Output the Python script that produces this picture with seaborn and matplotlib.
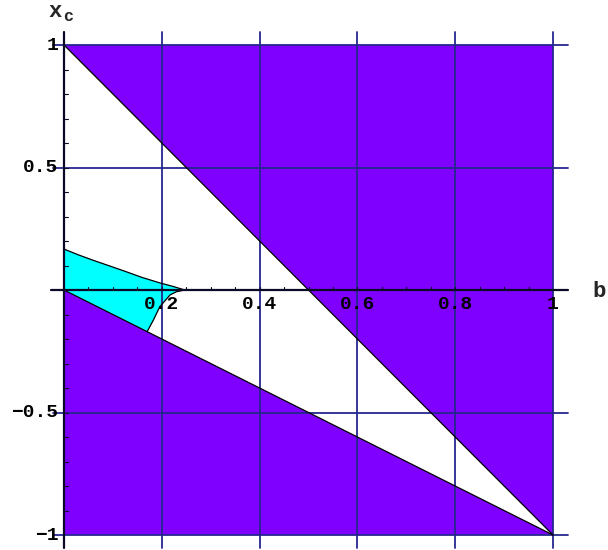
import numpy as np
import pandas as pd
import seaborn as sns
import matplotlib
matplotlib.use("Agg")
import matplotlib.pyplot as plt

sns.set_theme(style="white")
plt.rcParams['font.family'] = ['Liberation Mono', 'DejaVu Sans']

# region boundaries (b, x_c)
edge_b = [0.0, 1.0]
upper_xc = [1.0, -1.0]      # x_c = 1 - 2b
lower_xc = [0.0, -1.0]      # x_c = -b

# cyan region
cyan_top_b = [0.0, 0.03, 0.06, 0.095, 0.128, 0.16, 0.196, 0.224, 0.247]
cyan_top_xc = [0.167, 0.143, 0.121, 0.097, 0.074, 0.051, 0.029, 0.014, 0.0]
cyan_right_b = [0.247, 0.230, 0.217, 0.196, 0.183, 0.170]
cyan_right_xc = [0.0, -0.007, -0.020, -0.068, -0.122, -0.170]

xticks = [0.2, 0.4, 0.6, 0.8, 1.0]
xtick_labels = ['0.2', '0.4', '0.6', '0.8', '1']
yticks = [-1.0, -0.5, 0.5, 1.0]
ytick_labels = ['\u22121', '\u22120.5', '0.5', '1']

purple = '#7f00ff'
cyan = '#00ffff'
grid_col = '#26268f'
axis_col = '#0a0a28'

fig = plt.figure(figsize=(6.08, 5.5), dpi=100)
ax = fig.add_axes([0, 0, 1, 1])
ax.set_xlim(-64 / 489, 544 / 489)
ax.set_ylim(-260 / 245, 290 / 245)
ax.axis('off')

# purple regions
ax.fill([edge_b[0], edge_b[1], edge_b[1]], [upper_xc[0], upper_xc[0], upper_xc[1]],
        color=purple, lw=0, zorder=1)
ax.fill([edge_b[0], edge_b[1], edge_b[0]], [lower_xc[0], lower_xc[1], lower_xc[1]],
        color=purple, lw=0, zorder=1)

# cyan region
poly_b = cyan_top_b + cyan_right_b[1:] + [0.0]
poly_xc = cyan_top_xc + cyan_right_xc[1:] + [0.0]
ax.fill(poly_b, poly_xc, color=cyan, lw=0, zorder=1)

# grid
for x in xticks:
    ax.plot([x, x], [-1.053, 1.052], color=grid_col, lw=1.3, zorder=2)
for y in yticks:
    ax.plot([-0.022, 1.03], [y, y], color=grid_col, lw=1.3, zorder=2)

# boundary curves
lines = pd.DataFrame({'b': edge_b, 'up': upper_xc, 'lo': lower_xc})
sns.lineplot(data=lines, x='b', y='up', color='black', lw=0.9, ax=ax, zorder=3)
sns.lineplot(data=lines, x='b', y='lo', color='black', lw=0.9, ax=ax, zorder=3)
sns.lineplot(x=cyan_top_b, y=cyan_top_xc, color='black', lw=0.9, ax=ax, zorder=3,
             sort=False, estimator=None)
sns.lineplot(x=cyan_right_b, y=cyan_right_xc, color='black', lw=0.9, ax=ax, zorder=3,
             sort=False, estimator=None)

# axes
ax.plot([-0.027, 1.03], [0, 0], color=axis_col, lw=1.6, zorder=4)
ax.plot([0, 0], [-1.053, 1.052], color=axis_col, lw=1.6, zorder=4)

# minor ticks
for x in np.arange(0.05, 1.0, 0.05):
    ax.plot([x, x], [0, 0.012], color=axis_col, lw=0.8, zorder=4)
for y in np.arange(-0.9, 1.0, 0.1):
    if abs(y) > 1e-6:
        ax.plot([0, 0.008], [y, y], color=axis_col, lw=0.8, zorder=4)

# tick labels
for x, lab in zip(xticks, xtick_labels):
    ax.text(x, -0.058, lab, ha='center', va='center', fontsize=14, fontweight='bold',
            color='black', zorder=5)
for y, lab in zip(yticks, ytick_labels):
    ax.text(-0.012, y, lab, ha='right', va='center', fontsize=14, fontweight='bold',
            color='black', zorder=5)

# axis labels
ax.text(-0.004, 1.135, 'x', ha='right', va='center', fontsize=16, fontweight='bold')
ax.text(-0.002, 1.115, 'c', ha='left', va='center', fontsize=12, fontweight='bold')
ax.text(1.095, -0.005, 'b', ha='center', va='center', fontsize=16, fontweight='bold')

fig.savefig('out.png', dpi=100)
